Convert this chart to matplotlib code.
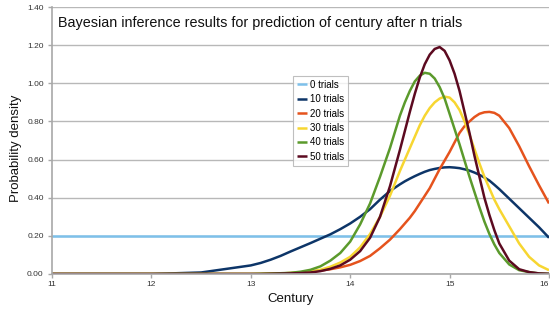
import matplotlib
matplotlib.use("Agg")
import matplotlib.pyplot as plt

plt.rcParams['font.family'] = ['Liberation Sans', 'DejaVu Sans']

century = [11.0, 12.0, 12.5, 13.0, 13.1, 13.2, 13.3, 13.4, 13.5, 13.6, 13.7, 13.8, 13.9,
           14.0, 14.1, 14.2, 14.3, 14.4, 14.5, 14.55, 14.6, 14.65, 14.7, 14.75, 14.8, 14.85, 14.9, 14.95,
           15.0, 15.05, 15.1, 15.15, 15.2, 15.25, 15.3, 15.35, 15.4, 15.45, 15.5,
           15.6, 15.7, 15.8, 15.9, 16.0]

trials_0 = [0.2] * len(century)
trials_10 = [0.0, 0.0, 0.008, 0.045, 0.058, 0.075, 0.095, 0.118, 0.14, 0.162, 0.185, 0.208, 0.235,
             0.265, 0.30, 0.34, 0.39, 0.435, 0.47, 0.486, 0.50, 0.513, 0.525, 0.536, 0.545, 0.551, 0.556, 0.559,
             0.56, 0.558, 0.555, 0.549, 0.542, 0.532, 0.52, 0.506, 0.49, 0.468, 0.445,
             0.395, 0.345, 0.295, 0.245, 0.19]
trials_20 = [0.0, 0.0, 0.0, 0.0, 0.0, 0.002, 0.003, 0.005, 0.008, 0.012, 0.018, 0.025, 0.035,
             0.048, 0.068, 0.095, 0.135, 0.18, 0.235, 0.265, 0.295, 0.33, 0.37, 0.41, 0.45, 0.50, 0.55, 0.595,
             0.64, 0.69, 0.74, 0.775, 0.80, 0.823, 0.84, 0.848, 0.85, 0.845, 0.83,
             0.765, 0.67, 0.565, 0.465, 0.37]
trials_30 = [0.0, 0.0, 0.0, 0.0, 0.001, 0.002, 0.003, 0.005, 0.008, 0.013, 0.022, 0.038, 0.06,
             0.09, 0.14, 0.21, 0.30, 0.41, 0.54, 0.60, 0.66, 0.72, 0.78, 0.83, 0.87, 0.90, 0.92, 0.93,
             0.925, 0.90, 0.86, 0.80, 0.73, 0.655, 0.58, 0.51, 0.45, 0.39, 0.34,
             0.25, 0.16, 0.09, 0.045, 0.02]
trials_40 = [0.0, 0.0, 0.0, 0.0, 0.001, 0.002, 0.004, 0.006, 0.012, 0.022, 0.04, 0.07, 0.11,
             0.17, 0.26, 0.37, 0.51, 0.66, 0.83, 0.90, 0.96, 1.01, 1.04, 1.055, 1.05, 1.025, 0.98, 0.92,
             0.84, 0.76, 0.68, 0.595, 0.51, 0.43, 0.35, 0.275, 0.21, 0.155, 0.11,
             0.05, 0.02, 0.01, 0.003, 0.001]
trials_50 = [0.0, 0.0, 0.0, 0.0, 0.0, 0.001, 0.002, 0.003, 0.005, 0.008, 0.015, 0.027, 0.045,
             0.075, 0.12, 0.19, 0.30, 0.46, 0.65, 0.75, 0.85, 0.945, 1.03, 1.10, 1.15, 1.18, 1.19, 1.17,
             1.12, 1.05, 0.96, 0.85, 0.74, 0.62, 0.51, 0.40, 0.31, 0.23, 0.16,
             0.07, 0.025, 0.01, 0.003, 0.001]

series = [
    ("0 trials", trials_0, "#7dc0ea"),
    ("10 trials", trials_10, "#0d3568"),
    ("20 trials", trials_20, "#e5531d"),
    ("30 trials", trials_30, "#f7d631"),
    ("40 trials", trials_40, "#5b9a2c"),
    ("50 trials", trials_50, "#5c0a20"),
]

x_ticks = [11, 12, 13, 14, 15, 16]
y_ticks = [0.0, 0.2, 0.4, 0.6, 0.8, 1.0, 1.2, 1.4]
title = "Bayesian inference results for prediction of century after n trials"

fig = plt.figure(figsize=(5.5, 3.12), dpi=100)
ax = fig.add_axes([52 / 550, 1 - 274 / 312, 497 / 550, 267 / 312])

for label, vals, col in series:
    ax.plot(century, vals, color=col, lw=1.8, label=label, solid_capstyle='butt',
            solid_joinstyle='round')

ax.set_xlim(11, 16)
ax.set_ylim(0, 1.4)
ax.set_xticks(x_ticks)
ax.set_xticklabels([str(t) for t in x_ticks])
ax.get_xticklabels()[-1].set_horizontalalignment('right')
ax.set_yticks(y_ticks)
ax.set_yticklabels(["%.2f" % t for t in y_ticks])
ax.yaxis.grid(True, color="#b8b8b8", lw=1.0)
ax.set_axisbelow(True)
for s in ["top", "right"]:
    ax.spines[s].set_visible(False)
for s in ["left", "bottom"]:
    ax.spines[s].set_color("#a8a8a8")
    ax.spines[s].set_linewidth(1.2)
ax.tick_params(axis='both', labelsize=6, colors="#a8a8a8", labelcolor="#333333", length=3, width=1)
ax.tick_params(axis='x', pad=2)
ax.tick_params(axis='y', pad=3)

ax.text(6 / 497, 1 - 16 / 267, title, transform=ax.transAxes, fontsize=10.4,
        color="#111111", va='center', ha='left')

fig.text(16 / 550, 1 - 148 / 312, "Probability density", rotation=90, fontsize=9.5,
         va='center', ha='center', color="#111111")
fig.text(291 / 550, 1 - 299 / 312, "Century", fontsize=9.5, va='center', ha='center', color="#111111")

leg = ax.legend(loc='upper left', bbox_to_anchor=((293 - 52) / 497, (274 - 76) / 267),
                fontsize=7, frameon=True, fancybox=False, handlelength=1.0,
                handletextpad=0.3, borderpad=0.4, labelspacing=0.45, borderaxespad=0)
leg.get_frame().set_edgecolor("#b0b0b0")
leg.get_frame().set_linewidth(0.8)

fig.savefig("out.png", dpi=100)
